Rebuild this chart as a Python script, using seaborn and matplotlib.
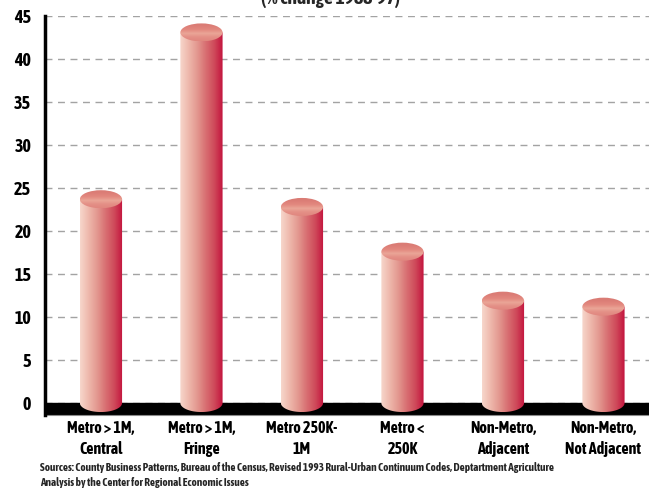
# Employment growth by county type, 1988-97 (cylinder bar chart)

import numpy as np
import pandas as pd
import matplotlib
matplotlib.use("Agg")
import matplotlib.pyplot as plt
import matplotlib.patheffects as pe
import seaborn as sns
from matplotlib import font_manager
from matplotlib.patches import Ellipse, PathPatch
from matplotlib.path import Path
from matplotlib.colors import LinearSegmentedColormap

# Data
regions = ["Metro > 1M,\nCentral", "Metro > 1M,\nFringe", "Metro 250K-\n1M",
           "Metro <\n250K", "Non-Metro,\nAdjacent", "Non-Metro,\nNot Adjacent"]
growth = [23.7, 43.1, 22.8, 17.6, 11.9, 11.2]
yticks = [0, 5, 10, 15, 20, 25, 30, 35, 40, 45]
title = "(% change 1988-97)"
sources = ("Sources: County Business Patterns, Bureau of the Census, Revised 1993 Rural-Urban "
           "Continuum Codes, Deptartment Agriculture\nAnalysis by the Center for Regional Economic Issues")

sns.set_theme(style="white")

# look for a condensed face (bold if possible), fall back to DejaVu Sans
def weight_of(f):
    return f.weight if isinstance(f.weight, int) else font_manager.weight_dict.get(f.weight, 400)

narrow = [f for f in font_manager.fontManager.ttflist if "Narrow" in f.name or "Condensed" in f.name]
bold = [f for f in narrow if weight_of(f) >= 600]
if bold:
    family, stroke, shrink = bold[0].name, 0, 1.0
elif narrow:
    family, stroke, shrink = narrow[0].name, 0.6, 1.0
else:
    family, stroke, shrink = "DejaVu Sans", 0, 0.86
plt.rcParams["font.family"] = [family, "DejaVu Sans"]
plt.rcParams["font.weight"] = "bold"
fx = [pe.withStroke(linewidth=stroke, foreground="black")] if stroke else []

df = pd.DataFrame({"region": regions, "growth": growth})

fig = plt.figure(figsize=(6.49, 4.92), dpi=100)
ax = fig.add_axes([0.0693, 0.1573, 0.9307, 0.810])

sns.barplot(data=df, x="region", y="growth", width=0.42, color="#e08c86", ax=ax)

body_cmap = LinearSegmentedColormap.from_list(
    "body", ["#f7d7cc", "#eeb8ac", "#e39890", "#d86f72", "#cf4a5a", "#c3123d"])
top_cmap = LinearSegmentedColormap.from_list(
    "top", ["#e0877f", "#e48f86", "#eaa597", "#e3897f", "#dc7e77", "#d97b74"])
eh = 2.1  # ellipse height in data units

for p in ax.patches:
    x0, w, h = p.get_x(), p.get_width(), p.get_height()
    p.set_visible(False)
    cx = x0 + w / 2
    t = np.linspace(0, -np.pi, 60)
    verts = [(x0, h), (x0 + w, h)] + list(zip(cx + w / 2 * np.cos(t), eh / 2 * np.sin(t))) + [(x0, h)]
    codes = [Path.MOVETO] + [Path.LINETO] * (len(verts) - 2) + [Path.CLOSEPOLY]
    body = PathPatch(Path(verts, codes), fc="none", ec="none", transform=ax.transData)
    ax.add_patch(body)
    im = ax.imshow(np.linspace(0, 1, 256).reshape(1, -1), cmap=body_cmap, aspect="auto",
                   extent=(x0, x0 + w, -eh / 2, h), zorder=3)
    im.set_clip_path(body)

    cap = Ellipse((cx, h), w, eh, fc="none", ec="none", transform=ax.transData)
    ax.add_patch(cap)
    im2 = ax.imshow(np.linspace(0, 1, 64).reshape(-1, 1), cmap=top_cmap, aspect="auto",
                    origin="lower", extent=(x0, x0 + w, h - eh / 2, h + eh / 2), zorder=4)
    im2.set_clip_path(cap)

# black floor
ax.axhspan(-1.35, 0, color="black", zorder=2)

ax.set_xlim(-0.557, 5.453)
ax.set_ylim(-1.35, 45)
ax.set_yticks(yticks)
ax.yaxis.grid(True, linestyle=(0, (5, 4)), color="#a3a3a3", linewidth=1)
ax.set_axisbelow(True)
ax.set_xlabel("")
ax.set_ylabel("")

for s in ["top", "right"]:
    ax.spines[s].set_visible(False)
ax.spines["left"].set_color("black")
ax.spines["left"].set_linewidth(2.5)
ax.spines["left"].set_zorder(5)
ax.spines["bottom"].set_color("#8a8a8a")
ax.spines["bottom"].set_linewidth(0.8)

ax.tick_params(axis="y", length=0, pad=10, labelsize=13 * shrink, labelcolor="black")
ax.tick_params(axis="x", length=0, pad=4, labelsize=11.5 * shrink, labelcolor="black")
for lbl in ax.get_xticklabels():
    lbl.set_linespacing(1.35)
    lbl.set_fontweight("bold")
    lbl.set_path_effects(fx)
for lbl in ax.get_yticklabels():
    lbl.set_fontweight("bold")
    lbl.set_path_effects(fx)

fig.text(0.51, 1 - 4 / 492, title, ha="center", va="baseline", fontsize=14 * shrink,
         fontweight="bold", path_effects=fx)
fig.text(40 / 649, 1 - 462 / 492, sources, ha="left", va="top", fontsize=8 * shrink ** 2,
         fontweight="bold", linespacing=1.4,
         path_effects=[pe.withStroke(linewidth=stroke * 0.6, foreground="black")] if stroke else [])

fig.savefig("out.png", dpi=100)
